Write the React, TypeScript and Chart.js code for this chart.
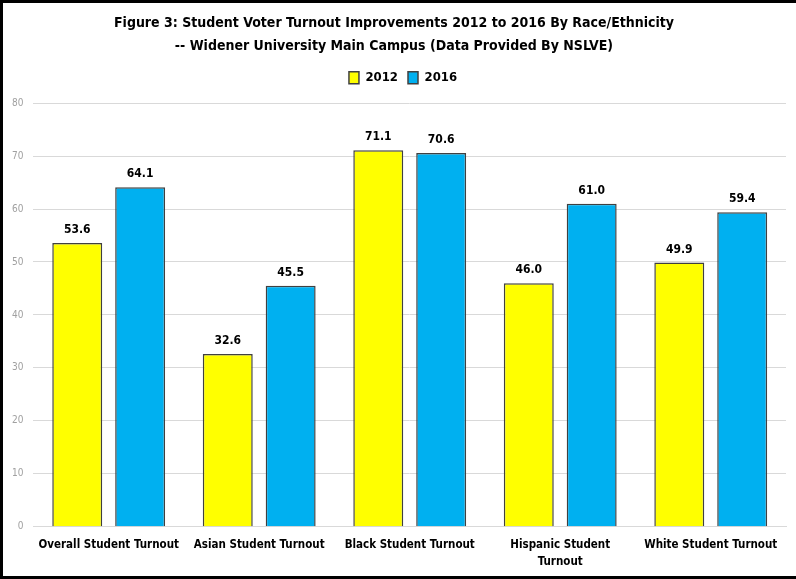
import React, { useEffect, useRef } from "react";
import { Chart, registerables } from "chart.js";

Chart.register(...registerables);

const categories: (string | string[])[] = [
  "Overall Student Turnout",
  "Asian Student Turnout",
  "Black Student Turnout",
  ["Hispanic Student", "Turnout"],
  "White Student Turnout",
];
const values2012 = [53.6, 32.6, 71.1, 46.0, 49.9];
const values2016 = [64.1, 45.5, 70.6, 61.0, 59.4];
const titleLines = [
  "Figure 3: Student Voter Turnout Improvements 2012 to 2016 By Race/Ethnicity",
  "-- Widener University Main Campus (Data Provided By NSLVE)",
];

const FONT = "'Liberation Sans Narrow', 'DejaVu Sans Condensed', sans-serif";

const valueLabels = {
  id: "valueLabels",
  afterDatasetsDraw(chart: any) {
    const ctx = chart.ctx;
    ctx.save();
    ctx.font = `bold 12px ${FONT}`;
    ctx.fillStyle = "#000";
    ctx.textAlign = "center";
    ctx.textBaseline = "middle";
    chart.data.datasets.forEach((ds: any, i: number) => {
      const meta = chart.getDatasetMeta(i);
      meta.data.forEach((bar: any, j: number) => {
        ctx.fillText(Number(ds.data[j]).toFixed(1), bar.x, bar.y - 13);
      });
    });
    ctx.restore();
  },
};

const legendTweak = {
  id: "legendTweak",
  beforeLayout(chart: any) {
    const lg = chart.legend;
    if (lg && !lg._tweaked) {
      const orig = lg.fit.bind(lg);
      lg.fit = function () {
        orig();
        this.height += 9;
      };
      lg._tweaked = true;
    }
  },
  afterLayout(chart: any) {
    if (chart.legend) {
      chart.legend.left += 9;
      chart.legend.right += 9;
    }
  },
};

export default function App() {
  const ref = useRef<HTMLCanvasElement>(null);
  useEffect(() => {
    const chart = new Chart(ref.current!, {
      type: "bar",
      data: {
        labels: categories,
        datasets: [
          {
            label: "2012",
            data: values2012,
            backgroundColor: "#FFFF00",
            borderColor: "#404040",
            borderWidth: 1.5,
            categoryPercentage: 0.836,
            barPercentage: 0.794,
          },
          {
            label: "2016",
            data: values2016,
            backgroundColor: "#00B0F0",
            borderColor: "#404040",
            borderWidth: 1.5,
            categoryPercentage: 0.836,
            barPercentage: 0.794,
          },
        ],
      },
      options: {
        responsive: false,
        animation: false,
        devicePixelRatio: 1,
        layout: { padding: { left: 2, right: 10, top: 0, bottom: 7 } },
        plugins: {
          title: {
            display: true,
            text: titleLines,
            color: "#000",
            font: { family: FONT, size: 14, weight: "bold", lineHeight: 1.65 },
            padding: { top: 12, bottom: 3 },
          },
          legend: {
            display: true,
            labels: {
              boxWidth: 10,
              boxHeight: 12,
              color: "#000",
              font: { family: FONT, size: 13, weight: "bold" },
              padding: 10,
            },
          },
          tooltip: { enabled: false },
        },
        scales: {
          x: {
            grid: { display: false },
            border: { color: "#d9d9d9", width: 1 },
            ticks: {
              color: "#000",
              font: { family: FONT, size: 11.5, weight: "bold", lineHeight: 1.45 },
              maxRotation: 0,
              autoSkip: false,
              padding: 2,
            },
          },
          y: {
            min: 0,
            max: 80,
            ticks: {
              stepSize: 10,
              color: "#a0a0a0",
              font: { family: FONT, size: 10 },
              padding: 10,
            },
            grid: { color: "#d9d9d9", drawTicks: false },
            border: { display: false },
          },
        },
      },
      plugins: [valueLabels, legendTweak],
    });
    return () => chart.destroy();
  }, []);
  return (
    <div style={{ position: "absolute", left: 0, top: 0, width: 796, height: 579, background: "#fff", overflow: "hidden" }}>
      <canvas ref={ref} width={796} height={579} style={{ display: "block" }} />
      <div style={{ position: "absolute", left: 0, top: 0, width: 796, height: 3, background: "#000" }} />
      <div style={{ position: "absolute", left: 0, top: 0, width: 3, height: 579, background: "#000" }} />
      <div style={{ position: "absolute", left: 0, top: 576, width: 796, height: 3, background: "#000" }} />
      <div style={{ position: "absolute", left: 790, top: 3, width: 6, height: 573, background: "#fff", zIndex: 5 }} />
    </div>
  );
}
